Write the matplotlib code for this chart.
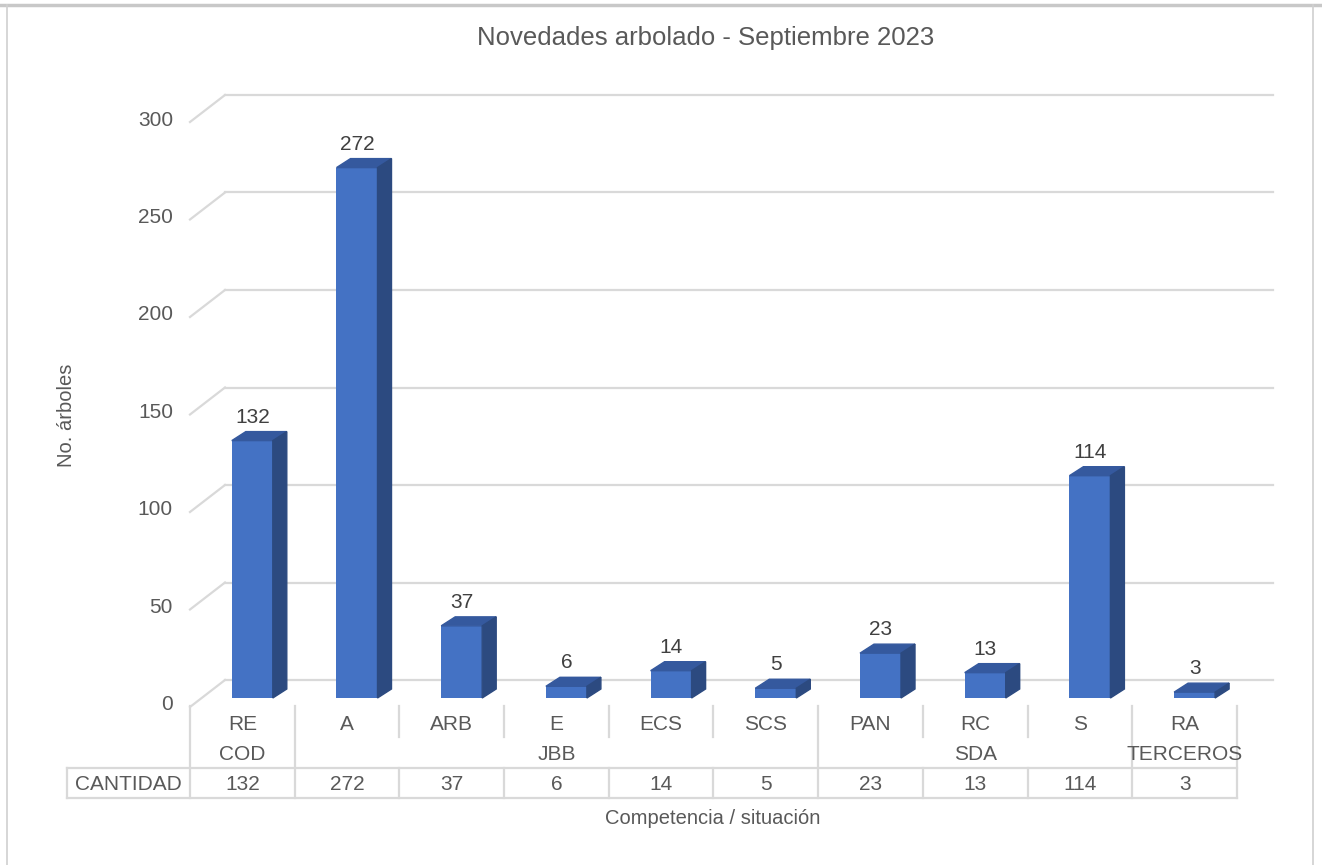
import matplotlib
matplotlib.use("Agg")
import matplotlib.pyplot as plt
from matplotlib.patches import Polygon
from matplotlib.lines import Line2D

plt.rcParams['font.family'] = ['Liberation Sans', 'DejaVu Sans']

# data
categories = ["RE", "A", "ARB", "E", "ECS", "SCS", "PAN", "RC", "S", "RA"]
values = [132, 272, 37, 6, 14, 5, 23, 13, 114, 3]
groups = ["COD", "JBB", "SDA", "TERCEROS"]
group_sizes = [1, 5, 3, 1]
yticks = [0, 50, 100, 150, 200, 250, 300]
title = "Novedades arbolado - Septiembre 2023"

W, H = 1322, 865
fig = plt.figure(figsize=(W / 100, H / 100), dpi=100)
ax = fig.add_axes([0, 0, 1, 1])

# layout: one category = 104.7 px, one unit of value = 1.95 px, zero at row 698
CW = 104.7
VS = 1.95
X0 = 190
Y0 = 698


def px_x(p):
    return -0.5 + (p - X0) / CW


def px_y(r):
    return (Y0 - r) / VS


ax.set_xlim(px_x(0), px_x(W))
ax.set_ylim(px_y(H), px_y(0))
ax.axis("off")

grid_c = "#D9D9D9"
text_c = "#595959"
face_c = "#4472C4"
side_c = "#2C4A80"
top_c = "#35599E"
fs = 15

# walls: back gridlines + diagonal on the left wall
back_dy = px_y(680) - px_y(698)
front_dy = px_y(707) - px_y(698)
for v in yticks:
    ax.plot([px_x(225), px_x(1273)], [v + back_dy, v + back_dy],
            color=grid_c, lw=1.6, clip_on=False, zorder=1)
    ax.plot([px_x(190), px_x(225)], [v + front_dy, v + back_dy],
            color=grid_c, lw=1.6, clip_on=False, zorder=1)
    ax.text(px_x(173), v + front_dy + px_y(0) - px_y(2), str(v), ha="right", va="center",
            fontsize=fs, color=text_c)

# 3d-ish bars
bw = 41 / CW
off = 0.095
ddx = 14 / CW
ddy = 9 / VS
xs = list(range(len(categories)))
bars = ax.bar([x + off for x in xs], values, width=bw, color=face_c, zorder=3)
for b, v in zip(bars, values):
    l = b.get_x()
    r = l + b.get_width()
    ax.add_patch(Polygon([(l, v), (r, v), (r + ddx, v + ddy), (l + ddx, v + ddy)],
                         closed=True, color=top_c, zorder=4))
    ax.add_patch(Polygon([(r, 0), (r, v), (r + ddx, v + ddy), (r + ddx, ddy)],
                         closed=True, color=side_c, zorder=4))
    ax.text(l + b.get_width() / 2, v + ddy + 2.5, str(v), ha="center", va="bottom",
            fontsize=fs, color="#404040")

# data table under the chart
bounds = [-0.5]
for s in group_sizes:
    bounds.append(bounds[-1] + s)
for k in range(len(categories) + 1):
    xb = -0.5 + k
    if xb in bounds:
        ax.plot([xb, xb], [px_y(706), px_y(798)], color=grid_c, lw=1.6, zorder=1)
    else:
        ax.plot([xb, xb], [px_y(706), px_y(737)], color=grid_c, lw=1.6, zorder=1)
        ax.plot([xb, xb], [px_y(768), px_y(798)], color=grid_c, lw=1.6, zorder=1)
for r in [768, 798]:
    ax.plot([px_x(67), len(categories) - 0.5], [px_y(r), px_y(r)], color=grid_c, lw=1.6, zorder=1)
ax.plot([px_x(67), px_x(67)], [px_y(768), px_y(798)], color=grid_c, lw=1.6, zorder=1)

for x, c, v in zip(xs, categories, values):
    ax.text(x, px_y(725), c, ha="center", va="center", fontsize=fs, color=text_c)
    ax.text(x, px_y(784), str(v), ha="center", va="center", fontsize=fs, color=text_c)
for g, a, b in zip(groups, bounds[:-1], bounds[1:]):
    ax.text((a + b) / 2, px_y(755), g, ha="center", va="center", fontsize=fs, color=text_c)
ax.text(px_x(128), px_y(784), "CANTIDAD", ha="center", va="center", fontsize=fs, color=text_c)

# titles
ax.text(px_x(706), px_y(38), title, ha="center", va="center", fontsize=18.5, color=text_c)
ax.text(px_x(713), px_y(819), "Competencia / situación", ha="center", va="center",
        fontsize=14.5, color=text_c)
ax.text(px_x(67), px_y(415), "No. árboles", ha="center", va="center", rotation=90,
        fontsize=14.5, color=text_c)

# outer frame of the chart object
fig.add_artist(Line2D([0, 1], [1 - 5 / H, 1 - 5 / H], color="#C8C8C8", lw=2.5))
fig.add_artist(Line2D([7 / W, 7 / W], [0, 1 - 5 / H], color="#D0D0D0", lw=1.2))
fig.add_artist(Line2D([1313 / W, 1313 / W], [0, 1 - 5 / H], color="#D0D0D0", lw=1.2))

fig.savefig("out.png", dpi=100)
